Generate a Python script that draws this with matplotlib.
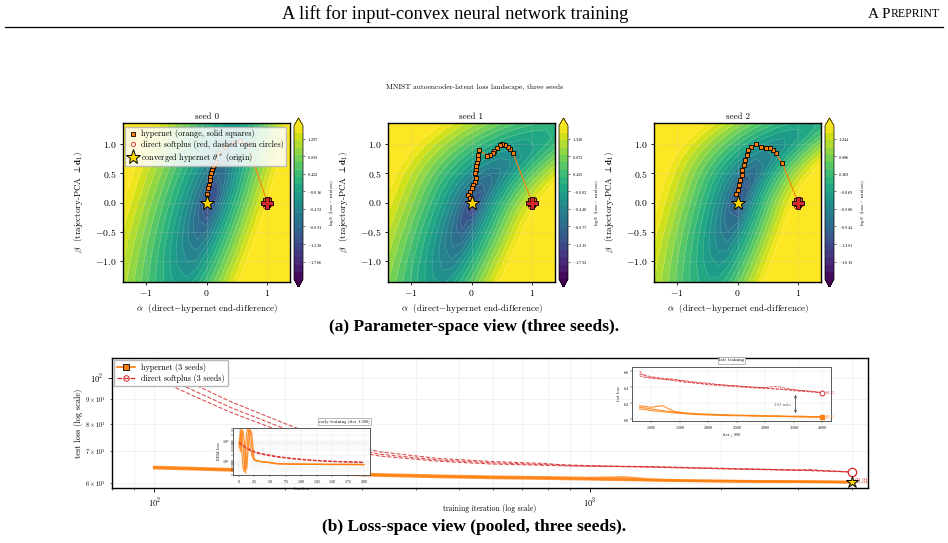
import numpy as np
import matplotlib
matplotlib.use("Agg")
import matplotlib.pyplot as plt
from matplotlib.lines import Line2D

plt.rcParams['font.family'] = ['cmr10', 'DejaVu Serif']
plt.rcParams['mathtext.fontset'] = 'cm'
plt.rcParams['axes.formatter.use_mathtext'] = True
plt.rcParams['axes.linewidth'] = 0.8

ORANGE = '#ff7f0e'
RED = '#d62728'

# ---------------- data: parameter-space view ----------------
seeds = ['seed 0', 'seed 1', 'seed 2']
cbar_ticks = [
    [1.297, 0.859, 0.422, -0.016, -0.453, -0.891, -1.328, -1.766],
    [1.310, 0.873, 0.435, -0.002, -0.440, -0.877, -1.315, -1.752],
    [1.244, 0.806, 0.369, -0.069, -0.506, -0.944, -1.381, -1.819],
]
# basin shape per seed: centre x, centre y, tilt (deg), reach up, reach down, width left, width right, bend
basin = [
    (0.08, 0.05, 72, 3.2, 3.6, 1.05, 0.68, 0.0),
    (0.00, -0.10, 68, 3.2, 3.6, 1.05, 0.70, 0.25),
    (0.05, 0.10, 72, 3.2, 3.4, 1.00, 0.66, 0.30),
]
hyper_x = [
    [1.0, 0.97, 1.03, 0.96, 1.02, 0.68, 0.55, 0.42, 0.30, 0.20, 0.15, 0.13, 0.11, 0.09, 0.08, 0.065, 0.05, 0.04, 0.03, 0.01],
    [1.0, 0.97, 1.03, 0.96, 1.02, 0.69, 0.64, 0.60, 0.56, 0.50, 0.47, 0.42, 0.38, 0.35, 0.30, 0.26, 0.13, 0.11, 0.10,
     0.09, 0.07, 0.08, 0.06, 0.07, 0.05, 0.02, 0.0, -0.03, -0.05, -0.03],
    [1.0, 0.97, 1.03, 0.96, 1.02, 0.74, 0.63, 0.59, 0.54, 0.47, 0.39, 0.31, 0.23, 0.18, 0.16, 0.12, 0.10, 0.08, 0.07,
     0.04, 0.03, 0.016, -0.02],
]
hyper_y = [
    [0.0, 0.05, 0.04, -0.03, -0.05, 1.0, 1.05, 1.02, 0.95, 0.84, 0.70, 0.64, 0.61, 0.55, 0.50, 0.44, 0.38, 0.30, 0.24, 0.15],
    [0.0, 0.05, 0.04, -0.03, -0.05, 0.84, 0.91, 0.95, 0.98, 1.0, 0.98, 0.94, 0.88, 0.84, 0.82, 0.79, 0.90, 0.82, 0.75,
     0.68, 0.62, 0.55, 0.50, 0.42, 0.35, 0.30, 0.25, 0.18, 0.13, 0.07],
    [0.0, 0.05, 0.04, -0.03, -0.05, 0.68, 0.84, 0.90, 0.94, 0.93, 0.95, 1.0, 0.95, 0.90, 0.81, 0.73, 0.64, 0.55, 0.47,
     0.39, 0.30, 0.22, 0.15],
]
direct_x = [1.0, 0.96, 1.04, 1.05, 0.97, 1.0]
direct_y = [0.0, 0.05, 0.06, -0.03, -0.06, 0.0]

# ---------------- data: loss-space view ----------------
it_main = [100, 120, 150, 200, 250, 330, 450, 600, 800, 900, 1000, 1200, 1400, 1600, 1800, 2000,
           2200, 2400, 2600, 2800, 3000, 3200, 3400, 3600, 3800, 4000]
hyper_loss = [
    [64.9, 64.6, 64.2, 63.6, 63.1, 62.6, 62.2, 61.9, 61.7, 61.6, 61.5, 61.7, 61.0, 60.8, 60.7, 60.65,
     60.6, 60.55, 60.5, 60.5, 60.45, 60.45, 60.4, 60.4, 60.35, 60.31],
    [64.7, 64.4, 64.0, 63.4, 62.9, 62.4, 62.0, 61.7, 61.5, 61.4, 61.3, 61.1, 60.9, 60.75, 60.65, 60.6,
     60.55, 60.5, 60.5, 60.45, 60.4, 60.4, 60.35, 60.35, 60.3, 60.30],
    [64.5, 64.2, 63.8, 63.2, 62.7, 62.2, 61.8, 61.5, 61.3, 61.2, 61.1, 60.95, 60.8, 60.7, 60.6, 60.55,
     60.5, 60.45, 60.45, 60.4, 60.4, 60.35, 60.35, 60.3, 60.3, 60.32],
]
direct_loss = [
    [106, 98, 89, 80, 74, 69.8, 67.6, 66.6, 65.95, 65.3, 65.2, 65.0, 64.9, 64.8, 64.6, 64.5,
     64.3, 64.2, 64.1, 64.0, 63.95, 64.1, 63.8, 63.6, 63.5, 63.32],
    [103, 95, 86.5, 78, 72.5, 69.0, 67.1, 66.2, 65.6, 65.5, 65.3, 65.1, 65.0, 64.7, 64.5, 64.4,
     64.3, 64.2, 64.1, 64.0, 63.9, 63.8, 63.7, 63.6, 63.45, 63.30],
    [100, 92.5, 84.5, 76.5, 71.5, 68.4, 66.7, 65.8, 65.4, 65.2, 65.1, 65.0, 64.8, 64.6, 64.5, 64.3,
     64.2, 64.1, 64.0, 63.9, 63.85, 63.75, 63.65, 63.5, 63.4, 63.35],
]
it_early = [1, 3, 5, 7, 9, 11, 13, 15, 17, 19, 21, 23, 25, 27, 29, 31, 35, 40, 50, 60, 80, 100, 125, 150, 175, 200]
hyper_early = [
    [70, 400, 30, 5, 3, 40, 300, 420, 150, 40, 20, 14, 12, 11, 10.5, 10, 9.5, 9, 8.2, 7.3, 7.0, 6.9, 6.8, 6.7, 6.7, 6.6],
    [50, 150, 350, 60, 8, 2.5, 20, 200, 380, 300, 60, 15, 11, 10.5, 10.2, 9.8, 9.4, 9, 8.4, 7.4, 7.1, 6.9, 6.8, 6.7, 6.7, 6.7],
    [90, 30, 200, 350, 100, 12, 4, 30, 150, 350, 250, 50, 13, 11, 10.4, 10, 9.5, 9.1, 8.3, 7.5, 7.1, 7.0, 6.9, 6.8, 6.8, 6.7],
]
direct_early = [
    [95, 85, 75, 66, 58, 52, 47, 43, 40, 37, 35, 33, 31, 29.5, 28, 27, 25, 23, 20, 17.5, 14.5, 12.5, 10.8, 9.8, 9.2, 8.8],
    [88, 78, 68, 60, 53, 48, 44, 40, 37, 34.5, 32.5, 30.5, 29, 27.5, 26, 25, 23, 21.5, 18.8, 16.5, 13.8, 12, 10.5, 9.5, 9.0, 8.6],
    [80, 72, 63, 56, 50, 45, 41, 38, 35, 33, 31, 29, 27.5, 26, 25, 24, 22, 20.5, 18, 16, 13.3, 11.6, 10.2, 9.3, 8.8, 8.4],
]
gap_iter = 3530
end_direct = 63.32
end_hyper = 60.31

W, H = 948, 543


def box(l, t, r, b):
    return [l / W, 1 - b / H, (r - l) / W, (b - t) / H]


def landscape(X, Y, p):
    cx, cy, ang, a_up, a_dn, b_l, b_r, bend = p
    t = np.deg2rad(ang)
    u = (X - cx) * np.cos(t) + (Y - cy) * np.sin(t)
    w = -(X - cx) * np.sin(t) + (Y - cy) * np.cos(t)
    w = w + bend * np.clip(u, 0, None) ** 2
    a = np.where(u > 0, a_up, a_dn)
    b = np.where(w > 0, b_l, b_r)
    r = np.sqrt((u / a) ** 2 + (w / b) ** 2)
    return -1.9 + 3.0 * r ** 0.6


fig = plt.figure(figsize=(W / 100, H / 100), dpi=100)

# ---------------- page header ----------------
serif = ['Liberation Serif', 'DejaVu Serif']
fig.text(455 / W, 1 - 14 / H, 'A lift for input-convex neural network training', ha='center', va='center',
         fontsize=13.3, family=serif)
t_rep = fig.text(940 / W, 1 - 14 / H, 'REPRINT', ha='right', va='center', fontsize=8.5, family=serif)
fig.canvas.draw()
bb = t_rep.get_window_extent()
fig.text(bb.x0 / W, 1 - 14 / H, 'A P', ha='right', va='center', fontsize=11, family=serif)
fig.add_artist(Line2D([5 / W, 943 / W], [1 - 27 / H] * 2, color='k', lw=0.9))

fig.text(474 / W, 1 - 87 / H, 'MNIST autoencoder-latent loss landscape, three seeds', ha='center', va='center',
         fontsize=5.4)

# ---------------- top: parameter-space panels ----------------
ax_l = [123, 388, 654]
grid = np.linspace(-1.4, 1.4, 19)
X, Y = np.meshgrid(grid, grid)
for i in range(3):
    ax = fig.add_axes(box(ax_l[i], 123, ax_l[i] + 167, 282))
    cax = fig.add_axes(box(ax_l[i] + 171, 118, ax_l[i] + 180, 287))
    ticks = cbar_ticks[i]
    vmax = ticks[0] + 0.32
    vmin = ticks[-1] - 0.44
    levels = np.linspace(vmin, vmax, 22)
    Z = landscape(X, Y, basin[i])
    cs = ax.contourf(X, Y, Z, levels=levels, cmap='viridis', extend='both')
    ax.contour(X, Y, Z, levels=levels, colors='white', linewidths=0.3, alpha=0.35)
    ax.grid(True, color='0.75', lw=0.4, alpha=0.5, ls='--')
    ax.plot(direct_x, direct_y, ls='--', color=RED, lw=0.7, marker='o', ms=3.2, mfc='none', mec=RED,
            mew=0.6, zorder=4)
    ax.plot(hyper_x[i], hyper_y[i], '-', color=ORANGE, lw=0.8, marker='s', ms=3.2, mfc=ORANGE, mec='k',
            mew=0.6, zorder=5)
    ax.plot(1.0, 0.0, marker='P', ms=8, color=RED, mec='k', mew=0.6, zorder=6)
    ax.plot(0.0, 0.0, marker='*', ms=11, color='gold', mec='k', mew=0.7, zorder=7)
    ax.set_xlim(-1.38, 1.38)
    ax.set_ylim(-1.36, 1.36)
    ax.set_xticks([-1, 0, 1])
    ax.set_yticks([-1.0, -0.5, 0.0, 0.5, 1.0])
    ax.tick_params(labelsize=7, length=2.5, width=0.6, pad=2)
    ax.set_title(seeds[i], fontsize=6.5, pad=3)
    ax.set_xlabel(r'$\alpha$  (direct$-$hypernet end-difference)', fontsize=6.5, labelpad=3)
    ax.set_ylabel(r'$\beta$  (trajectory-PCA $\perp\mathbf{d}_1$)', fontsize=6.5, labelpad=7)
    for s in ax.spines.values():
        s.set_linewidth(1.0)
    cb = fig.colorbar(cs, cax=cax, ticks=ticks)
    cb.set_ticklabels([f'${t:.3f}$' for t in ticks])
    cb.ax.tick_params(labelsize=3.2, length=1.5, width=0.4, pad=1.5)
    cb.set_label(r'$\log_{10}$ (loss $-$ minloss)', fontsize=3.4, labelpad=3)
    cb.outline.set_linewidth(0.5)
    if i == 0:
        handles = [
            Line2D([], [], ls='none', marker='s', ms=3, mfc=ORANGE, mec='k', mew=0.6),
            Line2D([], [], ls='none', marker='o', ms=3, mfc='none', mec=RED, mew=0.6),
            Line2D([], [], ls='none', marker='*', ms=11, mfc='gold', mec='k', mew=0.7),
        ]
        labels = ['hypernet (orange, solid squares)', 'direct softplus (red, dashed open circles)',
                  r'converged hypernet $\theta^*$ (origin)']
        ax.legend(handles, labels, loc='upper left', bbox_to_anchor=(0.01, 0.98), fontsize=5.8,
                  framealpha=0.85, borderpad=0.3, labelspacing=0.2, handletextpad=0.4,
                  handlelength=1.2, borderaxespad=0.1, fancybox=False, edgecolor='0.7')

fig.text(474 / W, 1 - 327 / H, '(a) Parameter-space view (three seeds).', ha='center', va='center',
         fontsize=12.5, fontweight='bold', family=serif)

# ---------------- bottom: loss-space panel ----------------
axb = fig.add_axes(box(112, 358, 868, 488))
for k in range(3):
    axb.plot(it_main, hyper_loss[k], '-', color=ORANGE, lw=1.8, alpha=0.75, zorder=3)
    axb.plot(it_main, direct_loss[k], '--', color=RED, lw=0.8, alpha=0.8, zorder=3)
axb.plot(it_main[-1], end_direct, 'o', ms=6, mfc='white', mec=RED, mew=0.9, zorder=5)
axb.plot(it_main[-1], end_hyper, '*', ms=9, color='gold', mec='k', mew=0.7, zorder=6)
axb.text(it_main[-1] * 1.015, end_hyper + 0.3, f'{end_hyper:.2f}', color=RED, fontsize=4.5, va='center')
axb.set_xscale('log')
axb.set_yscale('log')
axb.set_xlim(80, 4350)
axb.set_ylim(58.6, 110)
axb.grid(True, which='both', color='0.85', lw=0.4, alpha=0.6)
axb.tick_params(which='major', labelsize=6, length=3, width=0.6)
axb.tick_params(which='minor', labelsize=4.5, length=1.5, width=0.4)
axb.set_xlabel('training iteration (log scale)', fontsize=5.5)
axb.xaxis.set_label_coords(0.5, -0.12)
axb.set_ylabel('test loss (log scale)', fontsize=6, labelpad=1)
for s in axb.spines.values():
    s.set_linewidth(1.0)
leg_handles = [
    Line2D([], [], color=ORANGE, lw=1.2, marker='s', ms=4, mfc=ORANGE, mec='k', mew=0.6),
    Line2D([], [], color=RED, lw=0.9, ls='--', marker='o', ms=4, mfc='none', mec=RED, mew=0.7),
]
axb.legend(leg_handles, ['hypernet (3 seeds)', 'direct softplus (3 seeds)'], loc='upper left',
           fontsize=5.8, framealpha=0.95, borderpad=0.4, labelspacing=0.3, handlelength=2.2,
           borderaxespad=0.2, fancybox=True, edgecolor='0.7')

# early-training inset
ax_e = fig.add_axes(box(233, 428, 370, 475))
for k in range(3):
    ax_e.plot(it_early, hyper_early[k], '-', color=ORANGE, lw=0.9, alpha=0.8)
    ax_e.plot(it_early, direct_early[k], '--', color=RED, lw=0.7, alpha=0.8)
ax_e.set_yscale('log')
ax_e.set_ylim(2.0, 447)
ax_e.set_xticks([0, 25, 50, 75, 100, 125, 150, 175, 200])
ax_e.grid(True, which='both', color='0.85', lw=0.3, alpha=0.6)
ax_e.tick_params(which='both', labelsize=3, length=1.2, width=0.3, pad=1)
ax_e.set_xlabel('iteration', fontsize=3, labelpad=1)
ax_e.set_ylabel('EBM loss', fontsize=3, labelpad=1)
ax_e.set_title('early training (iter 1:200)', fontsize=3.2, loc='right', pad=4,
               bbox=dict(boxstyle='square,pad=0.25', fc='white', ec='0.5', lw=0.4))
for s in ax_e.spines.values():
    s.set_linewidth(0.7)
    s.set_color('0.35')

# late-training inset
ax_t = fig.add_axes(box(632, 367, 831, 421))
late = it_main.index(800)
for k in range(3):
    ax_t.plot(it_main[late:], hyper_loss[k][late:], '-', color=ORANGE, lw=0.8, alpha=0.85)
    ax_t.plot(it_main[late:], direct_loss[k][late:], '--', color=RED, lw=0.6, alpha=0.85)
ax_t.plot(it_main[-1], end_direct, 'o', ms=3.5, mfc='white', mec=RED, mew=0.7, zorder=5)
ax_t.plot(it_main[-1], end_hyper, 's', ms=3.5, color=ORANGE, zorder=5)
ax_t.text(it_main[-1] + 60, end_direct, f'{end_direct:.2f}', color=RED, fontsize=2.8, va='center')
ax_t.text(it_main[-1] + 60, end_hyper, f'{end_hyper:.2f}', color=ORANGE, fontsize=2.8, va='center')
ax_t.annotate('', xy=(gap_iter, end_hyper + 0.1), xytext=(gap_iter, end_direct + 0.1),
              arrowprops=dict(arrowstyle='<->', color='0.35', lw=0.6, mutation_scale=4))
ax_t.text(gap_iter - 90, (end_direct + end_hyper) / 2, f'{end_direct - end_hyper:.2f} nats', fontsize=3,
          color='0.3', ha='right', va='center')
ax_t.set_xlim(667, 4150)
ax_t.set_ylim(59.8, 66.5)
ax_t.set_xticks([1000, 1500, 2000, 2500, 3000, 3500, 4000])
ax_t.set_yticks([60, 62, 64, 66])
ax_t.grid(True, color='0.85', lw=0.3, alpha=0.6)
ax_t.tick_params(labelsize=3, length=1.2, width=0.3, pad=1)
ax_t.set_xlabel('iter > 800', fontsize=3, labelpad=1.5)
ax_t.set_ylabel('test loss', fontsize=3, labelpad=1.5)
ax_t.set_title('late training', fontsize=3.2, pad=4,
               bbox=dict(boxstyle='square,pad=0.25', fc='white', ec='0.5', lw=0.4))
for s in ax_t.spines.values():
    s.set_linewidth(0.7)
    s.set_color('0.35')

fig.text(474 / W, 1 - 527 / H, '(b) Loss-space view (pooled, three seeds).', ha='center', va='center',
         fontsize=12.5, fontweight='bold', family=serif)

fig.savefig('out.png', dpi=100)
